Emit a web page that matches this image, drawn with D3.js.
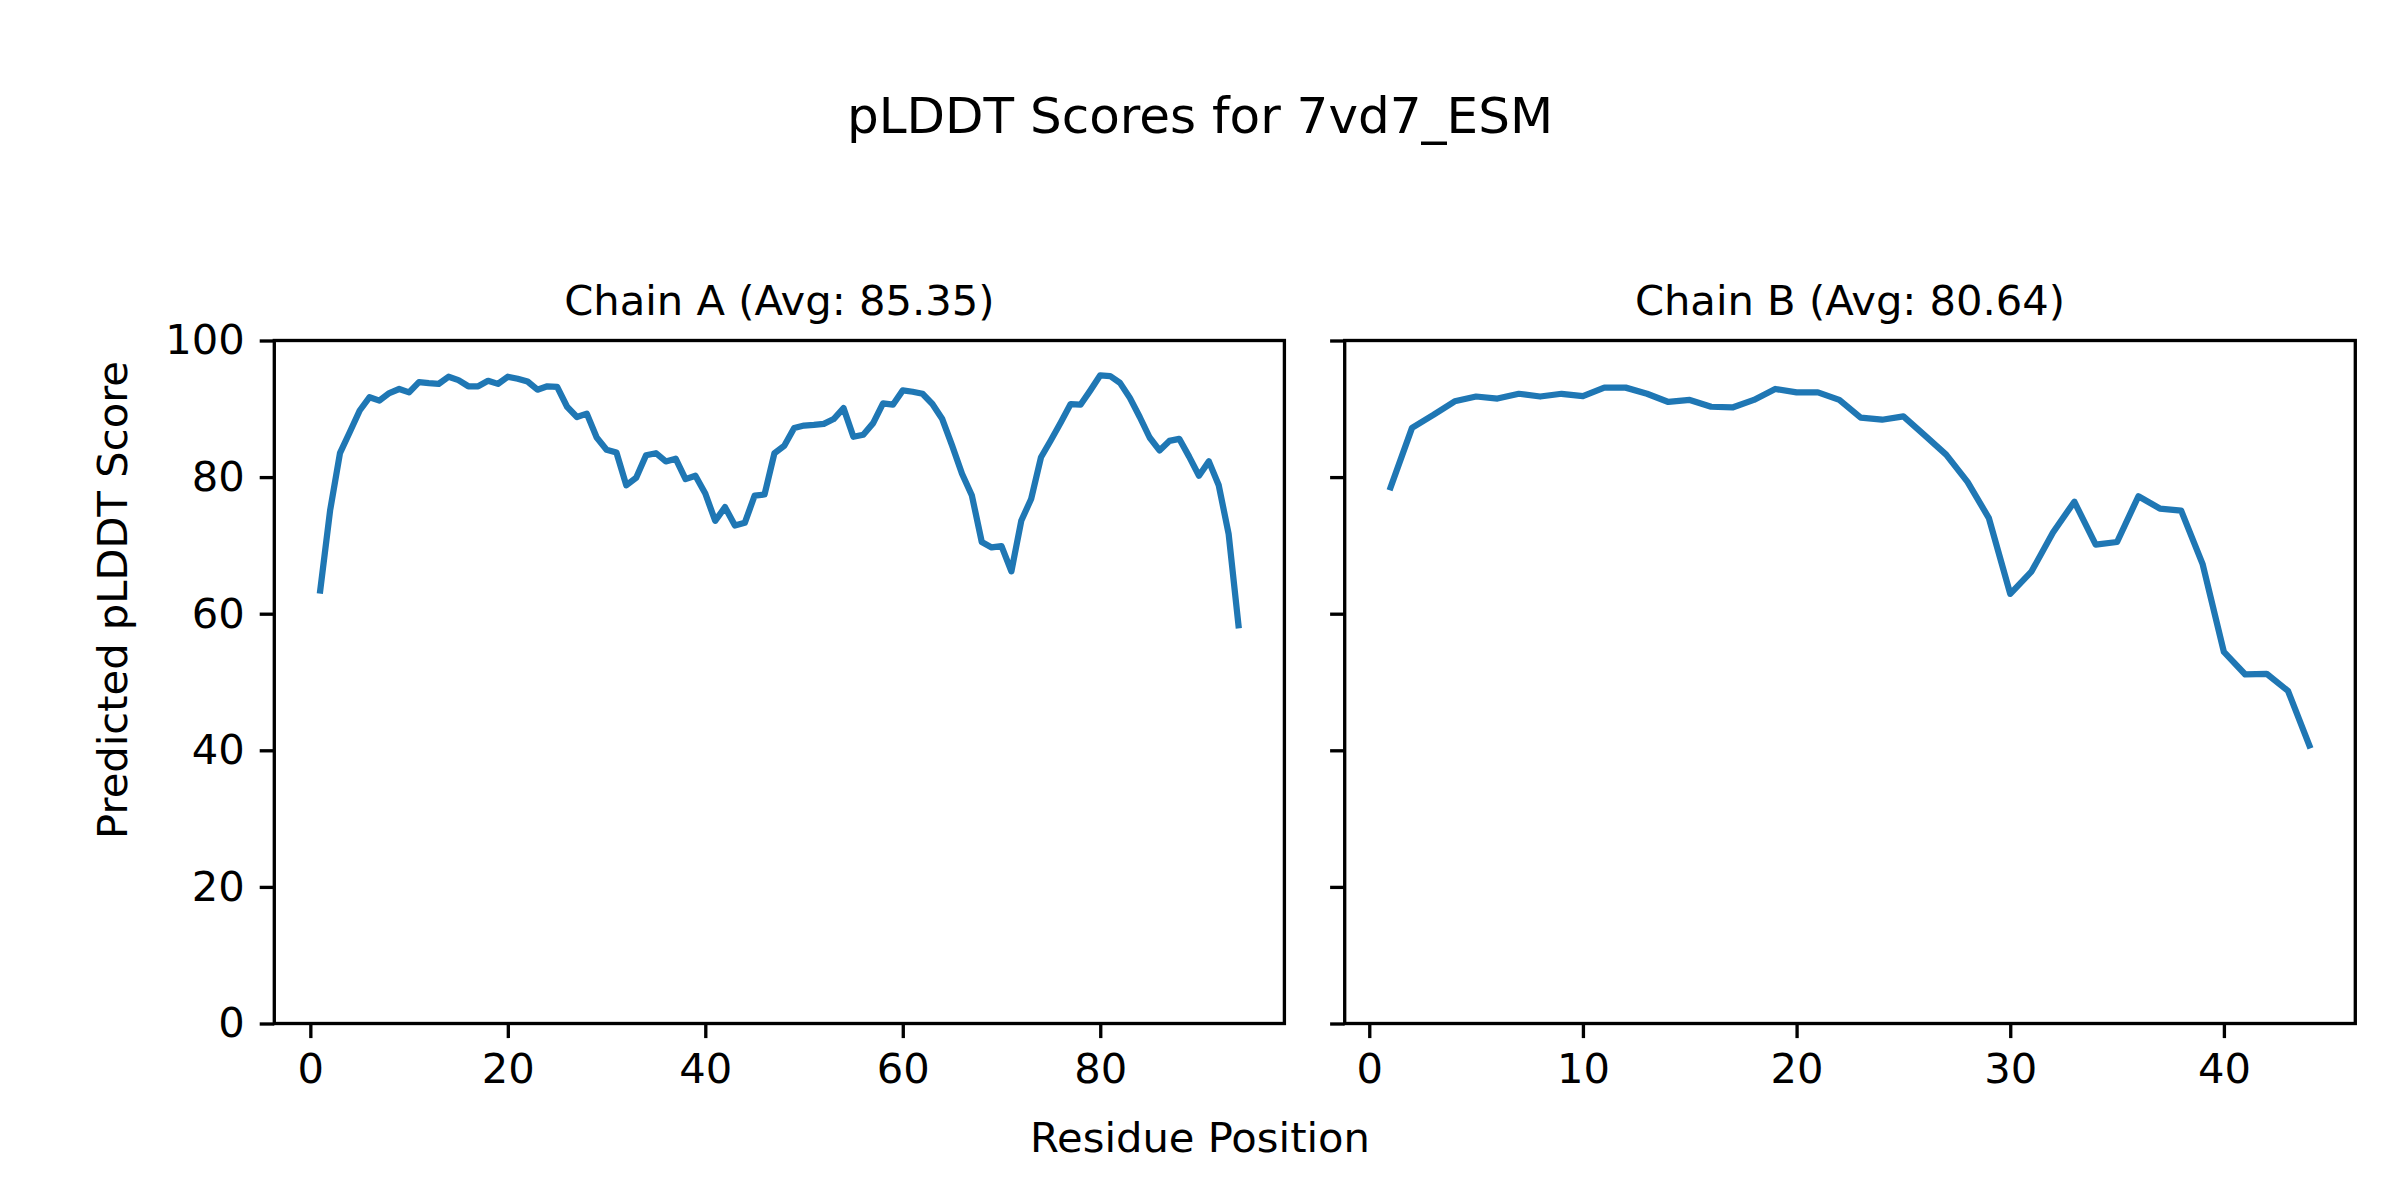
<!DOCTYPE html>
<html>
<head>
<meta charset="utf-8">
<script src="https://cdn.jsdelivr.net/npm/d3@7"></script>
<style>
  html, body { margin: 0; padding: 0; background: #ffffff; }
  svg { display: block; }
  text { font-family: "DejaVu Sans", sans-serif; fill: #000; }
</style>
</head>
<body>
<svg id="chart" width="2400" height="1200"></svg>
<script>
// ---------------- data ----------------
const suptitle = "pLDDT Scores for 7vd7_ESM";
const xLabel = "Residue Position";
const yLabel = "Predicted pLDDT Score";

const chainATitle = "Chain A (Avg: 85.35)";
const chainBTitle = "Chain B (Avg: 80.64)";

const chainAScores = [
  63.4, 75.1, 83.5, 86.6, 89.75, 91.7, 91.2, 92.3, 92.9, 92.4,
  93.9, 93.75, 93.65, 94.7, 94.2, 93.3, 93.3, 94.1, 93.65, 94.7,
  94.4, 94.0, 92.8, 93.3, 93.2, 90.3, 88.8, 89.3, 85.8, 84.0,
  83.6, 78.8, 79.9, 83.2, 83.5, 82.3, 82.7, 79.7, 80.2, 77.6,
  73.6, 75.6, 72.9, 73.3, 77.3, 77.45, 83.5, 84.6, 87.2, 87.55,
  87.65, 87.8, 88.5, 90.1, 85.9, 86.2, 87.9, 90.8, 90.6, 92.7,
  92.5, 92.2, 90.7, 88.5, 84.6, 80.5, 77.3, 70.5, 69.7, 69.9,
  66.2, 73.6, 76.8, 82.9, 85.4, 88.0, 90.7, 90.6, 92.7, 94.9,
  94.8, 93.8, 91.6, 88.8, 85.8, 83.9, 85.3, 85.6, 83.0, 80.2,
  82.3, 78.8, 71.7, 58.3
];

const chainBScores = [
  78.5, 87.2, 89.1, 91.1, 91.8, 91.5, 92.2, 91.8, 92.2, 91.85,
  93.1, 93.1, 92.2, 91.0, 91.3, 90.3, 90.2, 91.3, 92.9, 92.4,
  92.4, 91.3, 88.7, 88.4, 88.9, 86.1, 83.3, 79.3, 74.0, 62.9,
  66.2, 71.9, 76.4, 70.1, 70.5, 77.2, 75.4, 75.1, 67.3, 54.4,
  51.1, 51.2, 48.7, 40.7
];

const yTicks = [0, 20, 40, 60, 80, 100];
const xTicksA = [0, 20, 40, 60, 80];
const xTicksB = [0, 10, 20, 30, 40];

// ---------------- layout ----------------
const W = 2400, H = 1200;
const axTop = 340.5, axBottom = 1023.5;
const panels = [
  { title: chainATitle, values: chainAScores, ticks: xTicksA, left: 274.3, right: 1284.4, showYLabels: true },
  { title: chainBTitle, values: chainBScores, ticks: xTicksB, left: 1344.7, right: 2355.3, showYLabels: false }
];

const FS = 41.67;         // 10pt @ 300dpi
const FS_TITLE = 50;      // 12pt @ 300dpi
const TICK_LEN = 14.6;
const SPINE_W = 3.33;
const LINE_W = 6.25;
const BLUE = "#1f77b4";

const svg = d3.select("#chart");
svg.append("rect").attr("width", W).attr("height", H).attr("fill", "#fff");

const y = d3.scaleLinear().domain([0, 100]).range([axBottom, axTop]);

panels.forEach(p => {
  const n = p.values.length;
  const pos = d3.range(1, n + 1);
  const span = n - 1;
  const x = d3.scaleLinear()
    .domain([1 - 0.05 * span, n + 0.05 * span])
    .range([p.left, p.right]);

  const g = svg.append("g");

  // line
  const data = pos.map((r, i) => [r, p.values[i]]);
  g.append("path")
    .datum(data)
    .attr("fill", "none")
    .attr("stroke", BLUE)
    .attr("stroke-width", LINE_W)
    .attr("stroke-linejoin", "round")
    .attr("stroke-linecap", "square")
    .attr("d", d3.line().x(d => x(d[0])).y(d => y(d[1])));

  // x axis
  const xAxis = d3.axisBottom(x)
    .tickValues(p.ticks)
    .tickFormat(d3.format("d"))
    .tickSize(TICK_LEN)
    .tickPadding(15);
  const gx = g.append("g").attr("transform", `translate(0,${axBottom})`).call(xAxis);
  gx.select(".domain").remove();
  gx.selectAll(".tick line").attr("stroke", "#000").attr("stroke-width", SPINE_W);
  gx.selectAll(".tick text")
    .attr("font-size", FS)
    .attr("font-family", "DejaVu Sans")
    .attr("fill", "#000");

  // y axis
  const yAxis = d3.axisLeft(y)
    .tickValues(yTicks)
    .tickFormat(p.showYLabels ? d3.format("d") : () => "")
    .tickSize(TICK_LEN)
    .tickPadding(15);
  const gy = g.append("g").attr("transform", `translate(${p.left},0)`).call(yAxis);
  gy.select(".domain").remove();
  gy.selectAll(".tick line").attr("stroke", "#000").attr("stroke-width", SPINE_W);
  gy.selectAll(".tick text")
    .attr("font-size", FS)
    .attr("font-family", "DejaVu Sans")
    .attr("fill", "#000");

  // spines
  g.append("rect")
    .attr("x", p.left).attr("y", axTop)
    .attr("width", p.right - p.left).attr("height", axBottom - axTop)
    .attr("fill", "none")
    .attr("stroke", "#000")
    .attr("stroke-width", SPINE_W);

  // title
  g.append("text")
    .attr("x", (p.left + p.right) / 2)
    .attr("y", 315)
    .attr("text-anchor", "middle")
    .attr("font-size", FS)
    .text(p.title);
});

// suptitle
svg.append("text")
  .attr("x", W / 2).attr("y", 133)
  .attr("text-anchor", "middle")
  .attr("font-size", FS_TITLE)
  .text(suptitle);

// sup x label
svg.append("text")
  .attr("x", W / 2).attr("y", 1152)
  .attr("text-anchor", "middle")
  .attr("font-size", FS)
  .text(xLabel);

// sup y label
svg.append("text")
  .attr("transform", `translate(127,${H / 2}) rotate(-90)`)
  .attr("text-anchor", "middle")
  .attr("font-size", FS)
  .text(yLabel);
</script>
</body>
</html>
